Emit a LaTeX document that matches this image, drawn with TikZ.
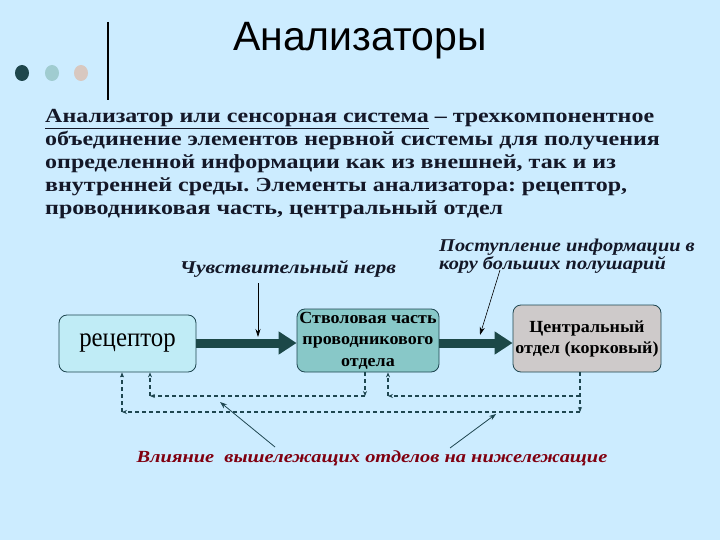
\documentclass[tikz,border=0pt]{standalone}
\usepackage{fontspec}
\setmainfont{Liberation Serif}
\newfontfamily\titlefont{Liberation Sans}
\newfontfamily\widefont[FakeStretch=1.2]{Liberation Serif}
\newfontfamily\midfont[FakeStretch=1.13]{Liberation Serif}
\newfontfamily\boxfont[FakeStretch=1.06]{Liberation Serif}
\newfontfamily\narrowfont[FakeStretch=0.92]{Liberation Serif}
\usetikzlibrary{arrows.meta, positioning}

\definecolor{slidebg}{RGB}{204,236,255}
\definecolor{boxline}{RGB}{30,70,80}
\definecolor{recfill}{RGB}{192,236,246}
\definecolor{stemfill}{RGB}{136,200,200}
\definecolor{cortexfill}{RGB}{206,202,202}
\definecolor{flowdark}{RGB}{28,72,72}
\definecolor{dotdark}{RGB}{30,70,76}
\definecolor{dotteal}{RGB}{160,204,208}
\definecolor{dotrose}{RGB}{216,200,192}
\definecolor{bodytext}{RGB}{20,24,40}
\definecolor{influred}{RGB}{128,0,16}

\frenchspacing
\begin{document}
\begin{tikzpicture}[
    x=1pt, y=-1pt,
    % Define styles
    partbox/.style={rectangle, draw=boxline, thick, rounded corners=8pt, align=center, inner sep=0pt},
    italiclabel/.style={font=\widefont\fontsize{18}{18}\selectfont\bfseries\itshape, text=bodytext, inner sep=0pt, align=left},
    flowarrow/.style={-{Triangle[length=18pt, width=22pt]}, line width=9pt, draw=flowdark},
    pointer/.style={-{Stealth[length=8pt, width=5pt]}, semithick, draw=black},
    feedback/.style={-{Stealth[length=5pt, width=4pt]}, dash pattern=on 4pt off 3pt, line width=1.4pt, draw=boxline}
]
    % Background and frame
    \fill[slidebg] (0,0) rectangle (720,540);
    \useasboundingbox (0,0) rectangle (720,540);

    % 1. Title with decoration
    \fill[dotdark] (22,73) ellipse (7 and 8);
    \fill[dotteal] (52,73) ellipse (7 and 8);
    \fill[dotrose] (81,73) ellipse (7 and 8);
    \draw[line width=2.5pt] (108,22) -- (108,100);
    \node[font=\titlefont\fontsize{41}{41}\selectfont] (title) at (360,41) {Анализаторы};

    % 2. Definition text
    \node[anchor=north west, inner sep=0pt, align=left, text=bodytext,
          font=\widefont\fontsize{20}{23}\selectfont\bfseries] (definition) at (45,109)
        {\underline{Анализатор или сенсорная система} – трехкомпонентное\\
         объединение элементов нервной системы для получения\\
         определенной информации как из внешней, так и из\\
         внутренней среды. Элементы анализатора: рецептор,\\
         проводниковая часть, центральный отдел};

    % 3. The three parts of the analyser
    \node[partbox, fill=recfill, minimum width=137pt, minimum height=57pt,
          font=\narrowfont\fontsize{27}{28}\selectfont] (receptor) at (127.5,343.5) {рецептор};
    \node[partbox, fill=stemfill, minimum width=142pt, minimum height=63pt,
          font=\boxfont\fontsize{17}{21.5}\selectfont\bfseries] (stem) at (368,340.5)
        {Стволовая часть\\проводникового\\отдела};
    \node[partbox, fill=cortexfill, minimum width=148pt, minimum height=67pt,
          font=\boxfont\fontsize{17}{21}\selectfont\bfseries] (cortex) at (587,338.5)
        {Центральный\\отдел (корковый)};

    % 4. Main flow of information
    \draw[flowarrow] (receptor.east |- 0,343) -- (stem.west |- 0,343);
    \draw[flowarrow] (stem.east |- 0,343) -- (cortex.west |- 0,343);

    % 5. Labels above the flow
    \node[italiclabel] (nerve) at (288,269) {Чувствительный нерв};
    \node[italiclabel, font=\midfont\fontsize{18}{18}\selectfont\bfseries\itshape] (income) at (567,256)
        {Поступление информации в\\кору больших полушарий};
    \coordinate (nervetip) at (258,337);
    \coordinate (incometip) at (480,335);
    \draw[pointer] (258,283) -- (nervetip);
    \draw[pointer] (500,270) -- (incometip);

    % 6. Feedback from the upper parts (dashed)
    \coordinate (c1) at (580,396);
    \coordinate (c2) at (580,412);
    \coordinate (s1) at (388,396);
    \coordinate (s2) at (365,396);
    \coordinate (r1) at (150,396);
    \coordinate (r2) at (122,412);
    % cortex to receptor
    \draw[feedback] (cortex.south -| c2) -- (c2);
    \draw[feedback] (c2) -- (r2);
    \draw[feedback] (r2) -- (receptor.south -| r2);
    % cortex to stem
    \draw[feedback] (c1) -- (s1);
    \draw[feedback] (s1) -- (stem.south -| s1);
    % stem to receptor
    \draw[feedback] (stem.south -| s2) -- (s2);
    \draw[feedback] (s2) -- (r1);
    \draw[feedback] (r1) -- (receptor.south -| r1);

    % 7. Influence label
    \node[italiclabel, text=influred, font=\widefont\fontsize{17}{17}\selectfont\bfseries\itshape] (influence) at (372,458)
        {Влияние\ \ вышележащих отделов на нижележащие};
    \draw[-{Stealth[length=7pt, width=5pt]}, thick, draw=boxline] (275,447) -- (220,402);
    \draw[-{Stealth[length=7pt, width=5pt]}, thick, draw=boxline] (450,448) -- (496,414);
\end{tikzpicture}
\end{document}
